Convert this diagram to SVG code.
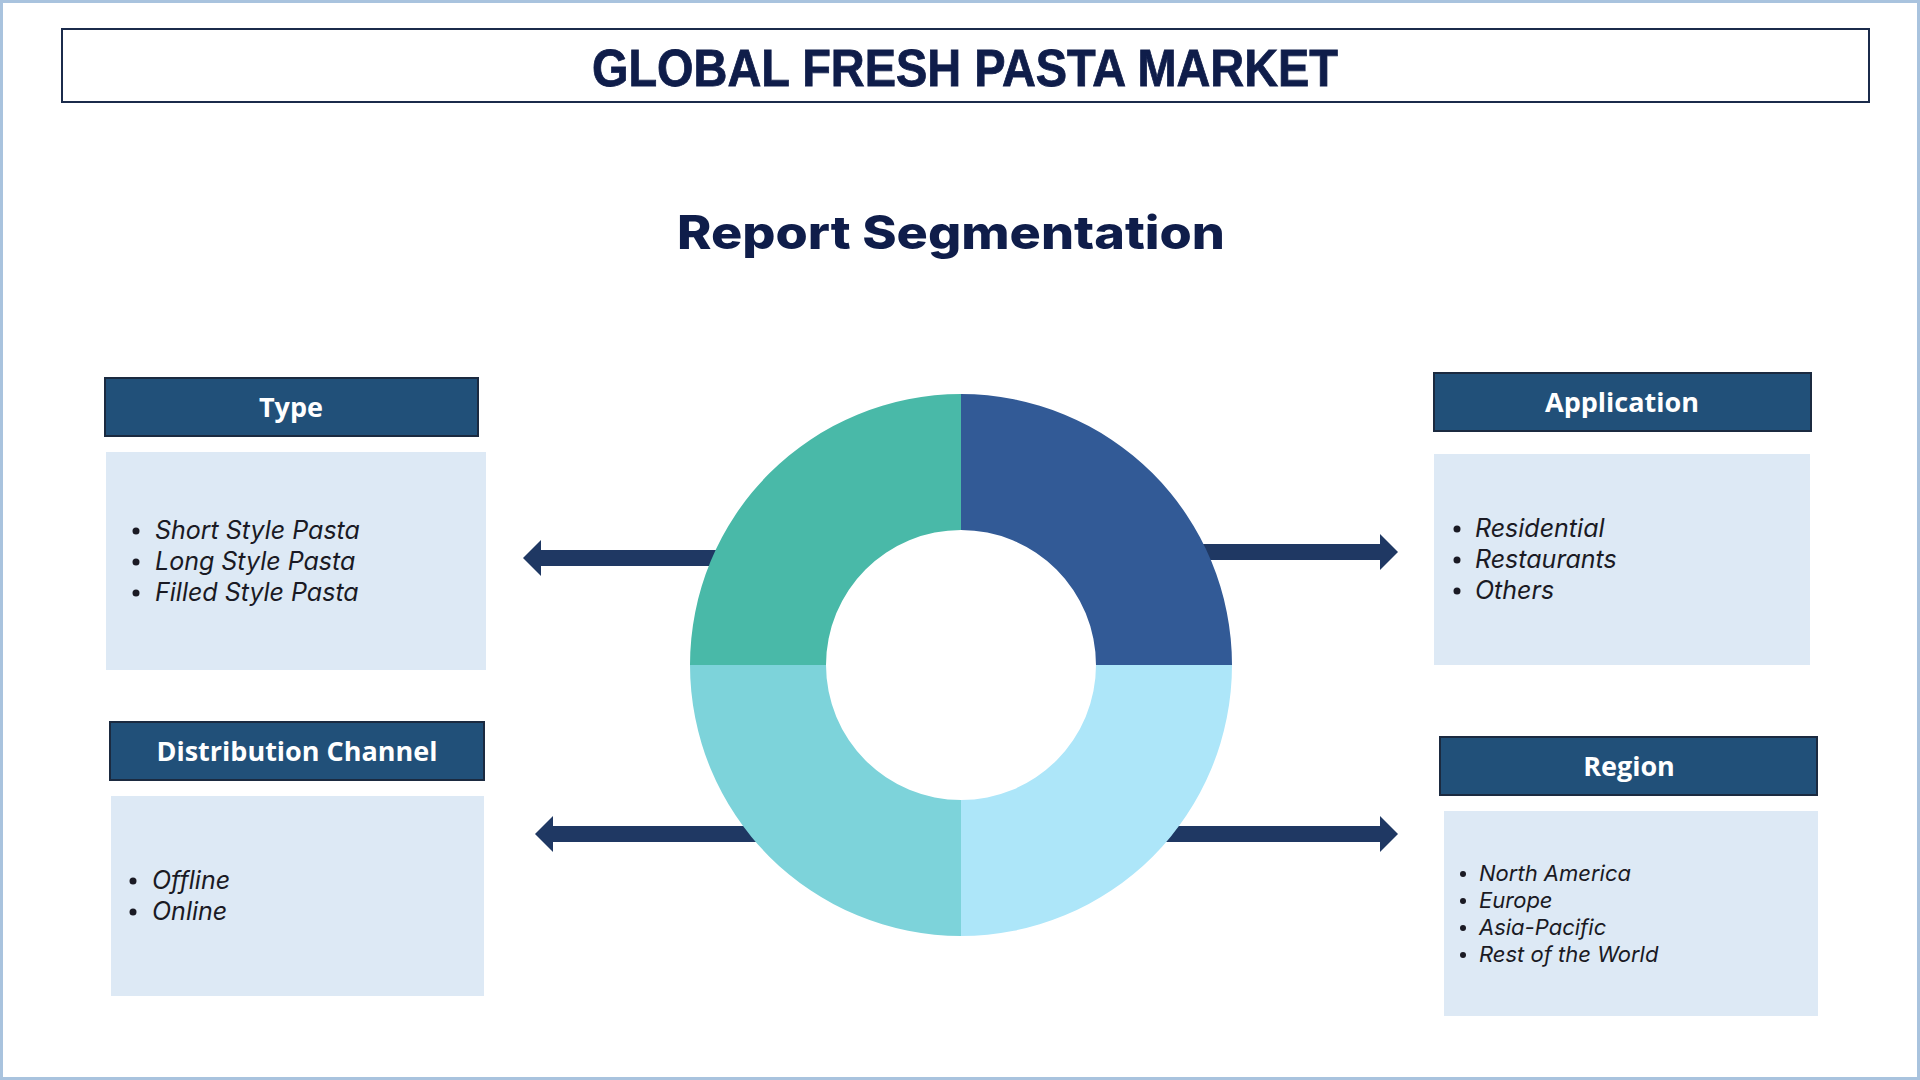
<svg xmlns="http://www.w3.org/2000/svg" width="1920" height="1080" viewBox="0 0 1920 1080">
<style>
.hdr{fill:#215079;stroke:#1b2a40;stroke-width:2}
.body{fill:#dde9f5}
.hdrtxt{font-family:"Open Sans","Noto Sans",sans-serif;font-weight:700;font-size:27px;fill:#ffffff;text-anchor:middle}
.item{font-family:Inter,"Noto Sans",sans-serif;font-style:italic;font-size:25px;fill:#1a1a24}
.itemsm{font-family:Inter,"Noto Sans",sans-serif;font-style:italic;font-size:22px;fill:#1a1a24}
.arrow{fill:#1f3863}
</style>
<rect x="0" y="0" width="1920" height="1080" fill="#ffffff"/>
<rect x="1.5" y="1.5" width="1917" height="1077" fill="none" stroke="#a9c3de" stroke-width="3"/>

<g id="title">
<rect x="62" y="29" width="1807" height="73" fill="#ffffff" stroke="#1b2b4b" stroke-width="2"/>
<text x="965" y="86" font-family="'Liberation Sans',Arial,sans-serif" font-weight="700" font-size="51" fill="#0f1d4a" stroke="#0f1d4a" stroke-width="0.8" text-anchor="middle" textLength="746" lengthAdjust="spacingAndGlyphs">GLOBAL FRESH PASTA MARKET</text>
</g>

<g id="subtitle">
<text x="951" y="249" font-family="Inter,'Open Sans',sans-serif" font-weight="800" font-size="46" fill="#0f1d4a" text-anchor="middle" textLength="548" lengthAdjust="spacingAndGlyphs">Report Segmentation</text>
</g>

<g id="connectors">
<polygon class="arrow" points="800,550 541,550 541,540 523,558 541,576 541,566 800,566"/>
<polygon class="arrow" points="1120,544 1380,544 1380,534 1398,552 1380,570 1380,560 1120,560"/>
<polygon class="arrow" points="820,826 553,826 553,816 535,834 553,852 553,842 820,842"/>
<polygon class="arrow" points="1100,826 1380,826 1380,816 1398,834 1380,852 1380,842 1100,842"/>
</g>

<g id="donut">
<path d="M961,394 A271,271 0 0 1 1232,665 L1096,665 A135,135 0 0 0 961,530 Z" fill="#325a96"/>
<path d="M961,394 A271,271 0 0 0 690,665 L826,665 A135,135 0 0 1 961,530 Z" fill="#49b9a8"/>
<path d="M690,665 A271,271 0 0 0 961,936 L961,800 A135,135 0 0 1 826,665 Z" fill="#7dd3da"/>
<path d="M1232,665 A271,271 0 0 1 961,936 L961,800 A135,135 0 0 0 1096,665 Z" fill="#ade6f9"/>
</g>

<g id="node-type">
<rect class="hdr" x="105" y="378" width="373" height="58"/>
<text class="hdrtxt" x="291" y="417">Type</text>
<rect class="body" x="106" y="452" width="380" height="218"/>
<circle cx="136" cy="531" r="3.5" fill="#1a1a24"/>
<text class="item" x="155" y="539">Short Style Pasta</text>
<circle cx="136" cy="562" r="3.5" fill="#1a1a24"/>
<text class="item" x="155" y="570">Long Style Pasta</text>
<circle cx="136" cy="593" r="3.5" fill="#1a1a24"/>
<text class="item" x="155" y="601">Filled Style Pasta</text>
</g>

<g id="node-distribution">
<rect class="hdr" x="110" y="722" width="374" height="58"/>
<text class="hdrtxt" x="297" y="761">Distribution Channel</text>
<rect class="body" x="111" y="796" width="373" height="200"/>
<circle cx="133" cy="881" r="3.5" fill="#1a1a24"/>
<text class="item" x="152" y="889">Offline</text>
<circle cx="133" cy="912" r="3.5" fill="#1a1a24"/>
<text class="item" x="152" y="920">Online</text>
</g>

<g id="node-application">
<rect class="hdr" x="1434" y="373" width="377" height="58"/>
<text class="hdrtxt" x="1622" y="412">Application</text>
<rect class="body" x="1434" y="454" width="376" height="211"/>
<circle cx="1457" cy="529" r="3.5" fill="#1a1a24"/>
<text class="item" x="1475" y="537">Residential</text>
<circle cx="1457" cy="560" r="3.5" fill="#1a1a24"/>
<text class="item" x="1475" y="568">Restaurants</text>
<circle cx="1457" cy="591" r="3.5" fill="#1a1a24"/>
<text class="item" x="1475" y="599">Others</text>
</g>

<g id="node-region">
<rect class="hdr" x="1440" y="737" width="377" height="58"/>
<text class="hdrtxt" x="1629" y="776">Region</text>
<rect class="body" x="1444" y="811" width="374" height="205"/>
<circle cx="1463" cy="874" r="3" fill="#1a1a24"/>
<text class="itemsm" x="1479" y="881">North America</text>
<circle cx="1463" cy="901" r="3" fill="#1a1a24"/>
<text class="itemsm" x="1479" y="908">Europe</text>
<circle cx="1463" cy="928" r="3" fill="#1a1a24"/>
<text class="itemsm" x="1479" y="935">Asia-Pacific</text>
<circle cx="1463" cy="955" r="3" fill="#1a1a24"/>
<text class="itemsm" x="1479" y="962">Rest of the World</text>
</g>
</svg>
